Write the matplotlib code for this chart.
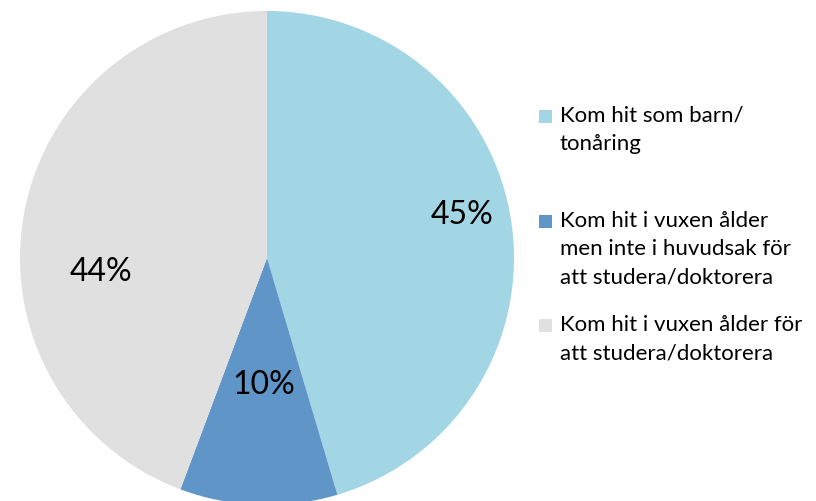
import matplotlib.pyplot as plt
from matplotlib.patches import Rectangle

labels = ["Kom hit som barn/\ntonåring",
          "Kom hit i vuxen ålder\nmen inte i huvudsak för\natt studera/doktorera",
          "Kom hit i vuxen ålder för\natt studera/doktorera"]
shares = [45.4, 10.3, 44.3]
colors = ["#A2D6E4", "#6095C8", "#E0E0E0"]

plt.rcParams['font.family'] = ['Lato', 'DejaVu Sans']

fig = plt.figure(figsize=(8.16, 5.02), dpi=100)
ax = fig.add_axes([0, 0, 1, 1])
ax.set_xlim(0, 816)
ax.set_ylim(0, 502)
ax.set_aspect('equal')
ax.axis('off')

wedges, _ = ax.pie(shares, colors=colors, startangle=90, counterclock=False,
                   center=(267, 502 - 259), radius=247,
                   wedgeprops=dict(linewidth=0))
ax.set_xlim(0, 816)
ax.set_ylim(0, 502)

# percentage labels, placed like the original
pct_pos = [(462, 502 - 215), (264, 502 - 385), (101, 502 - 272)]
for v, (x, y) in zip(shares, pct_pos):
    ax.text(x, y, f"{v:.0f}%", ha='center', va='center', fontsize=23, color='black')

# legend drawn by hand (uneven spacing in the original)
base_y = [122, 227, 331]
for lab, col, y in zip(labels, colors, base_y):
    ax.add_patch(Rectangle((539, 502 - y - 2), 13, 13, color=col, linewidth=0))
    for i, line in enumerate(lab.split("\n")):
        ax.text(560, 502 - y - 28 * i, line, ha='left', va='baseline',
                fontsize=16, color='black')

fig.savefig("out.png", dpi=100)
